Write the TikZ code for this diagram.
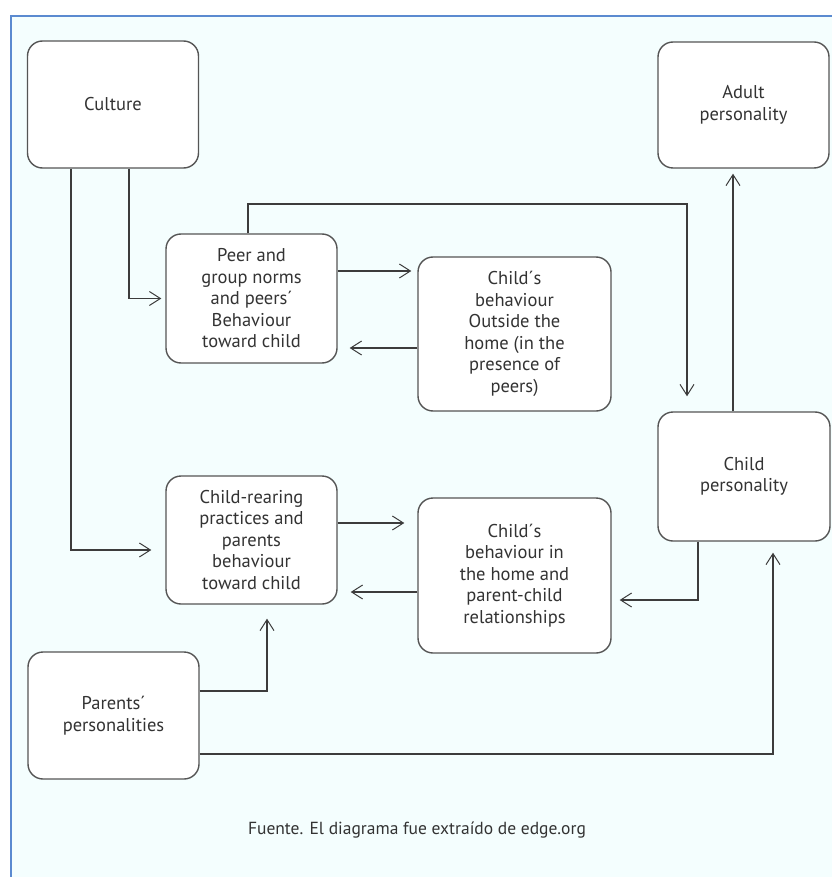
\documentclass[tikz,border=0pt]{standalone}
\usepackage{fontspec}
\setmainfont{PT Sans}
\usetikzlibrary{arrows.meta}
\definecolor{bgc}{HTML}{F4FEFE}
\definecolor{framec}{HTML}{5B8AD0}
\definecolor{linec}{HTML}{3C3C3C}
\definecolor{boxc}{HTML}{555555}
\definecolor{txtc}{HTML}{333333}
\begin{document}
\begin{tikzpicture}[x=1pt,y=-1pt,
  box/.style={draw=boxc, line width=1.4pt, fill=white, rounded corners=15pt,
    align=center, inner sep=0pt, font=\fontsize{18.5}{21.5}\selectfont, text=txtc},
  arr/.style={draw=linec, line width=1.2pt,
    -{Straight Barb[length=11pt,width=14pt,line width=1pt]}}]
\useasboundingbox (0,0) rectangle (832,877);
\fill[white] (0,0) rectangle (832,877);
\fill[bgc] (11,16) rectangle (832,877);
\draw[framec, line width=2pt] (11,877) -- (11,16) -- (832,16);

\node[box, minimum width=171pt, minimum height=127pt] (culture) at (113,104.5) {Culture};
\node[box, minimum width=171pt, minimum height=126pt] (adult) at (743.5,105) {Adult\\personality};
\node[box, minimum width=171pt, minimum height=129pt] (peer) at (251.5,298.5) {Peer and\\group norms\\and peers´\\Behaviour\\toward child};
\node[box, minimum width=193pt, minimum height=154pt] (outside) at (514.5,334) {Child´s\\behaviour\\Outside the\\home (in the\\presence of\\peers)};
\node[box, minimum width=171pt, minimum height=128pt] (rearing) at (251.5,540) {Child-rearing\\practices and\\parents\\behaviour\\toward child};
\node[box, minimum width=193pt, minimum height=155pt] (home) at (514.5,575.5) {Child´s\\behaviour in\\the home and\\parent-child\\relationships};
\node[box, minimum width=172pt, minimum height=129pt] (childp) at (744,476.5) {Child\\personality};
\node[box, minimum width=171pt, minimum height=127pt] (parents) at (113.5,715.5) {Parents´\\personalities};

\node[font=\fontsize{17.5}{20}\selectfont, text=txtc] (caption) at (417,830) {Fuente. El diagrama fue extraído de edge.org};

\coordinate (k1) at (687,204);

\draw[arr, shorten >=14pt] ([xshift=-42pt]culture.south) |- ([yshift=-10pt]rearing.west);
\draw[arr, shorten >=4pt] ([xshift=16pt]culture.south) |- (peer.west);
\draw[arr, shorten >=6pt] ([yshift=27.5pt]peer.east) -- ([yshift=27.5pt]peer.east -| outside.west);
\draw[arr, shorten >=12pt] ([yshift=-14pt]outside.west) -- ([yshift=-14pt]outside.west -| peer.east);
\draw[arr, shorten >=15pt] ([xshift=-3.5pt]peer.north) |- (k1) -- ([xshift=-57pt]childp.north);
\draw[arr, shorten >=5pt] ([xshift=-11pt]childp.north) -- ([xshift=-10.5pt]adult.south);
\draw[arr, shorten >=13pt] ([yshift=17pt]rearing.east) -- ([yshift=17pt]rearing.east -| home.west);
\draw[arr, shorten >=13pt] ([yshift=-16.5pt]home.west) -- ([yshift=-16.5pt]home.west -| rearing.east);
\draw[arr, shorten >=8pt] ([xshift=-46pt]childp.south) |- ([yshift=-24.5pt]home.east);
\draw[arr, shorten >=14pt] ([yshift=24.5pt]parents.east) -| ([xshift=15.5pt]rearing.south);
\draw[arr, shorten >=11pt] ([yshift=-38.5pt]parents.east) -| ([xshift=29pt]childp.south);
\end{tikzpicture}
\end{document}
